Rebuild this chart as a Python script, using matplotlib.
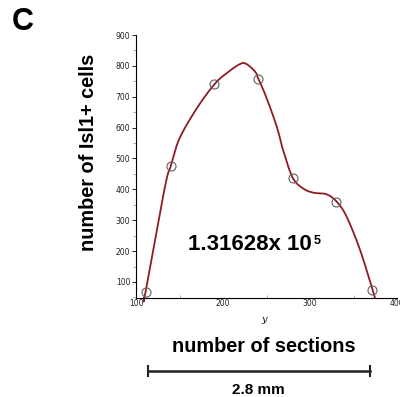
import numpy as np
import matplotlib
matplotlib.use("Agg")
import matplotlib.pyplot as plt
from matplotlib.ticker import MultipleLocator

# data points (sections, Isl1+ cells)
pts_x = [111, 140, 190, 240, 280, 330, 371]
pts_y = [68, 476, 740, 759, 438, 359, 73]

# fitted curve knots
curve_x = [109.2, 111, 133, 140, 150, 170, 190, 204, 219.5, 227, 237, 240.5, 248, 258, 264, 269,
           280, 292, 304, 319, 330.7, 342, 357.5, 372, 374.7]
curve_y = [48, 68, 404, 476, 565, 663, 740, 776, 806, 806, 781, 759, 711, 635, 582, 528,
           438, 403, 389, 384, 360, 312, 204, 74, 48]

y_ticks = [100, 200, 300, 400, 500, 600, 700, 800, 900]
x_ticks = [100, 200, 300, 400]


def catmull_rom(xs, ys, n=20):
    p = np.column_stack([xs, ys]).astype(float)
    p = np.vstack([p[0], p, p[-1]])
    out = []
    for i in range(1, len(p) - 2):
        p0, p1, p2, p3 = p[i - 1], p[i], p[i + 1], p[i + 2]
        t = np.linspace(0, 1, n, endpoint=False)[:, None]
        seg = 0.5 * ((2 * p1) + (-p0 + p2) * t + (2 * p0 - 5 * p1 + 4 * p2 - p3) * t ** 2
                     + (-p0 + 3 * p1 - 3 * p2 + p3) * t ** 3)
        out.append(seg)
    out.append(p[-2][None, :])
    out = np.vstack(out)
    return out[:, 0], out[:, 1]


W, H = 400, 397
fig = plt.figure(figsize=(W / 100, H / 100), dpi=100)
ax = fig.add_axes([0.34, 0.2494, 0.6525, 0.6624])

cx, cy = catmull_rom(curve_x, curve_y)
ax.plot(cx, cy, color="#8e1b26", lw=1.3, zorder=2, clip_on=False)
ax.plot(pts_x, pts_y, 'o', mfc='none', mec='#606060', mew=0.8, ms=6.5, zorder=3, clip_on=False)

ax.set_xlim(100, 400)
ax.set_ylim(48, 900)
ax.set_xticks(x_ticks)
ax.set_yticks(y_ticks)
ax.xaxis.set_minor_locator(MultipleLocator(50))
ax.yaxis.set_minor_locator(MultipleLocator(50))
for s in ['top', 'right']:
    ax.spines[s].set_visible(False)
for s in ['left', 'bottom']:
    ax.spines[s].set_linewidth(0.8)
ax.tick_params(axis='both', which='major', labelsize=5.5, length=3, width=0.6, pad=1, labelcolor='#222222')
ax.tick_params(axis='both', which='minor', length=2, width=0.5, color='#888888')
ax.tick_params(axis='x', which='both', direction='in')
ax.tick_params(axis='x', which='major', length=0)

# annotation value
fig.text(188 / W, 1 - 250 / H, "1.31628x 10", fontsize=16, fontweight='bold',
         family='Liberation Sans', va='baseline', ha='left')
fig.text(314 / W, 1 - 243.5 / H, "5", fontsize=9, fontweight='bold',
         family='Liberation Sans', va='baseline', ha='left')

fig.text(264 / W, 1 - 320 / H, "y", fontsize=7, style='italic', family='DejaVu Serif',
         ha='center', va='center')
fig.text(88 / W, 1 - 152 / H, "number of Isl1+ cells", rotation=90, fontsize=14.3,
         fontweight='bold', family='Liberation Sans', ha='center', va='center')
fig.text(264 / W, 1 - 347 / H, "number of sections", fontsize=14.3,
         fontweight='bold', family='Liberation Sans', ha='center', va='center')
fig.text(22.5 / W, 1 - 21.5 / H, "C", fontsize=22, fontweight='bold',
         family='Liberation Sans', ha='center', va='center')

# scale bar
yb = 1 - 370.5 / H
fig.add_artist(plt.Line2D([148 / W, 370 / W], [yb, yb], color='#222222', lw=1.8))
for xe in [148 / W, 370 / W]:
    fig.add_artist(plt.Line2D([xe, xe], [yb - 5 / H, yb + 5 / H], color='#222222', lw=1.5))
fig.text(258.5 / W, 1 - 390 / H, "2.8 mm", fontsize=11, fontweight='bold',
         family='Liberation Sans', ha='center', va='center')

fig.savefig("out.png", dpi=100)
